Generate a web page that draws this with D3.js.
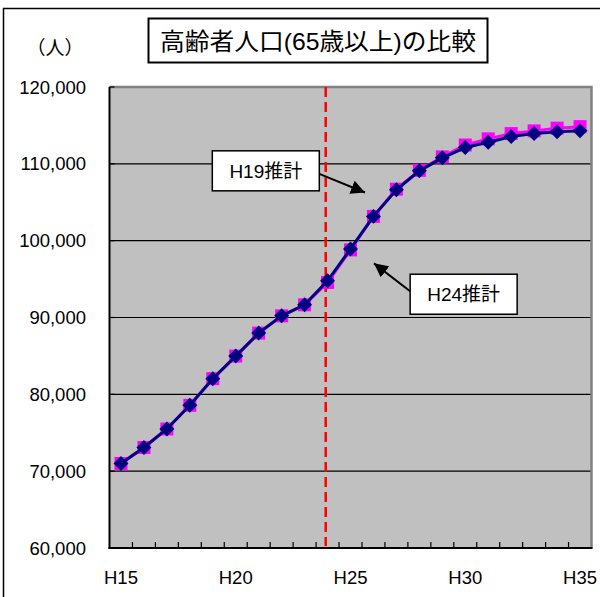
<!DOCTYPE html>
<html><head><meta charset="utf-8">
<script src="https://cdn.jsdelivr.net/npm/d3@7"></script>
<style>
html,body{margin:0;padding:0;background:#fff;}
text{font-family:"Liberation Sans",Arial,"Noto Sans CJK JP",sans-serif;}
</style></head>
<body>
<svg id="c" width="600" height="597"></svg>
<script>
const categories = ["H15","H16","H17","H18","H19","H20","H21","H22","H23","H24","H25","H26","H27","H28","H29","H30","H31","H32","H33","H34","H35"];
const tickLabels = ["H15","H20","H25","H30","H35"];
const yTicks = [60000,70000,80000,90000,100000,110000,120000];
const seriesH19 = [71000,73080,75490,78570,82040,84980,87970,90220,91650,94560,98800,103160,106700,109150,110900,112450,113250,113940,114290,114640,114840];
const seriesH24 = [71000,73080,75490,78570,82040,84980,87970,90220,91650,94770,98920,103160,106620,109090,110780,112120,112810,113550,113940,114160,114290];
const titleText = "高齢者人口(65歳以上)の比較";
const unitText = "（人）";
const dividerCategory = "H24";
const annotations = [
  {label:"H19推計", boxIdx:6.31, boxVal:109090, tipIdx:10.63, tipVal:106270, side:"right"},
  {label:"H24推計", boxIdx:14.93, boxVal:93030, tipIdx:11.02, tipVal:97050, side:"left"}
];

const svg = d3.select("#c");
const L=109.5, R=591.5, T=87, B=548;
const x = d3.scaleBand().domain(categories).range([L,R]).padding(0);
const xi = d3.scaleLinear().domain([-0.5, categories.length-0.5]).range([L,R]);
const y = d3.scaleLinear().domain([60000,120000]).range([B,T]);
const bw = x.bandwidth();
const cx = c => x(c)+bw/2;

svg.append("rect").attr("x",3.5).attr("y",8.5).attr("width",640).attr("height",640)
  .attr("fill","#fff").attr("stroke","#000").attr("stroke-width",1.5);

svg.append("rect").attr("x",L).attr("y",T).attr("width",R-L).attr("height",B-T).attr("fill","#c0c0c0");

svg.append("g").selectAll("line").data(yTicks.filter(v=>v>60000 && v<120000)).join("line")
  .attr("x1",L).attr("x2",R).attr("y1",d=>y(d)).attr("y2",d=>y(d))
  .attr("stroke","#000").attr("stroke-width",1.2);

svg.append("path").attr("d",`M${L},${T}H${R}V${B}`).attr("fill","none").attr("stroke","#808080").attr("stroke-width",2.5);

const dx = x(dividerCategory)+bw*0.42;
svg.append("line").attr("x1",dx).attr("x2",dx).attr("y1",T).attr("y2",B-2)
  .attr("stroke","#ff0000").attr("stroke-width",2.5).attr("stroke-dasharray","10,5");

svg.append("line").attr("x1",L).attr("x2",L).attr("y1",T).attr("y2",B+1).attr("stroke","#000").attr("stroke-width",2);
svg.append("line").attr("x1",L-1).attr("x2",R+1).attr("y1",B).attr("y2",B).attr("stroke","#000").attr("stroke-width",2);
svg.append("g").selectAll("line").data(categories.slice(1)).join("line")
  .attr("x1",d=>x(d)).attr("x2",d=>x(d)).attr("y1",B).attr("y2",B-6)
  .attr("stroke","#000").attr("stroke-width",1.2);
svg.append("g").selectAll("line").data(yTicks).join("line")
  .attr("x1",L).attr("x2",L+5).attr("y1",d=>y(d)).attr("y2",d=>y(d))
  .attr("stroke","#000").attr("stroke-width",1.2);

const fmt = d3.format(",");
svg.append("g").selectAll("text").data(yTicks).join("text")
  .attr("x",86).attr("y",d=>y(d)).attr("dy","0.36em").attr("text-anchor","end")
  .attr("font-size",18.5).attr("fill","#000").text(d=>fmt(d));
svg.append("g").selectAll("text").data(tickLabels).join("text")
  .attr("x",d=>cx(d)).attr("y",584).attr("text-anchor","middle")
  .attr("font-size",18.5).attr("fill","#000").text(d=>d);

const line = d3.line().x((d,i)=>cx(categories[i])).y(d=>y(d));
svg.append("path").datum(seriesH19).attr("d",line).attr("fill","none").attr("stroke","#ff00ff").attr("stroke-width",3);
svg.append("g").selectAll("rect").data(seriesH19).join("rect")
  .attr("x",(d,i)=>cx(categories[i])-6.5).attr("y",d=>y(d)-6.5).attr("width",13).attr("height",13).attr("fill","#ff00ff");
svg.append("path").datum(seriesH24).attr("d",line).attr("fill","none").attr("stroke","#000080").attr("stroke-width",3);
svg.append("g").selectAll("path").data(seriesH24).join("path")
  .attr("transform",(d,i)=>`translate(${cx(categories[i])},${y(d)}) rotate(45)`)
  .attr("d",d3.symbol().type(d3.symbolSquare).size(112)).attr("fill","#000080");

svg.append("defs").append("marker").attr("id","ah").attr("viewBox","0 0 10 10")
  .attr("refX",10).attr("refY",5).attr("markerWidth",7).attr("markerHeight",7)
  .attr("markerUnits","strokeWidth").attr("orient","auto")
  .append("path").attr("d","M0,0L10,5L0,10Z").attr("fill","#000");

const bwid=107, bh=40;
annotations.forEach(a=>{
  const bx=xi(a.boxIdx), by=y(a.boxVal);
  const sx = a.side==="right" ? bx+bwid/2 : bx-bwid/2;
  svg.append("line").attr("x1",sx).attr("y1",by+ (a.side==="right"?3:-3)).attr("x2",xi(a.tipIdx)).attr("y2",y(a.tipVal))
    .attr("stroke","#000").attr("stroke-width",2).attr("marker-end","url(#ah)");
  svg.append("rect").attr("x",bx-bwid/2).attr("y",by-bh/2).attr("width",bwid).attr("height",bh)
    .attr("fill","#fff").attr("stroke","#000").attr("stroke-width",1.5);
  svg.append("text").attr("x",bx).attr("y",by).attr("dy","0.36em").attr("text-anchor","middle")
    .attr("font-size",19).attr("fill","#000").text(a.label);
});

svg.append("rect").attr("x",148.5).attr("y",18.5).attr("width",339).attr("height",44)
  .attr("fill","#fff").attr("stroke","#000").attr("stroke-width",2);
svg.append("text").attr("x",318).attr("y",41).attr("dy","0.36em").attr("text-anchor","middle")
  .attr("font-size",24).attr("fill","#000").attr("textLength",316).attr("lengthAdjust","spacingAndGlyphs")
  .text(titleText);
svg.append("text").attr("x",55).attr("y",48).attr("dy","0.36em").attr("text-anchor","middle")
  .attr("font-size",19).attr("fill","#000").text(unitText);
</script>
</body></html>
